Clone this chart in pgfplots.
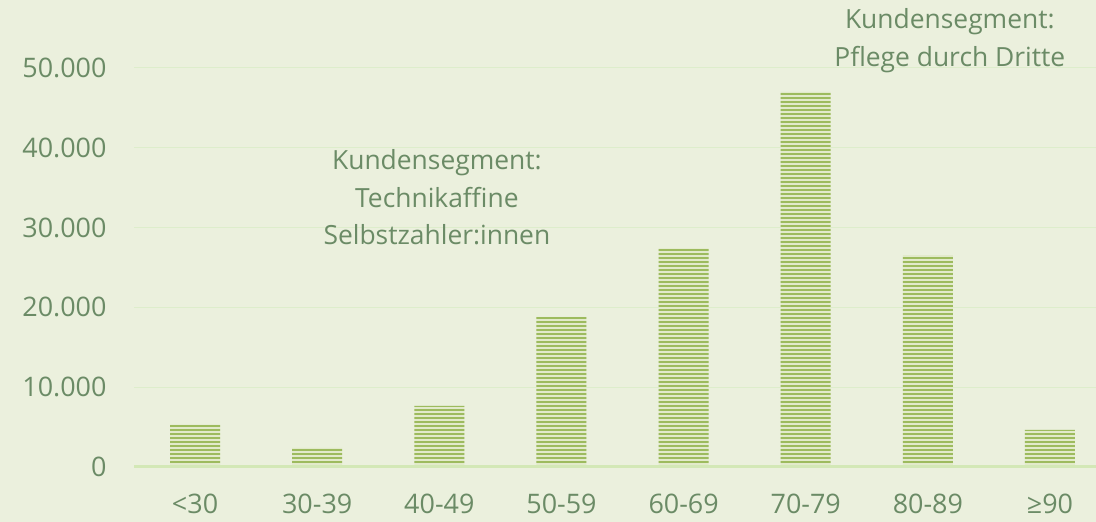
\documentclass[border=0pt]{standalone}
\usepackage{fontspec}
\setmainfont{Open Sans}
\usepackage{pgfplots}
\pgfplotsset{compat=1.18}
\usetikzlibrary{patterns.meta}
\definecolor{bg}{HTML}{EBF0DD}
\definecolor{txt}{HTML}{6B8B66}
\definecolor{grid}{HTML}{DDEDCB}
\definecolor{base}{HTML}{D3E8B6}
\definecolor{stripe}{HTML}{9DBB5E}
\definecolor{gap}{HTML}{E2EACB}
\begin{document}
\begin{tikzpicture}[x=1bp,y=1bp]
\path[use as bounding box, fill=bg] (0,0) rectangle (1096,522);
\begin{axis}[
  at={(134bp,55bp)}, anchor=south west,
  scale only axis, width=962bp, height=438.9bp,
  xmin=-0.5, xmax=7.377, ymin=0, ymax=55000,
  axis line style={draw=none},
  tick style={draw=none},
  xtick={0,...,7},
  xticklabels={{<30},{30-39},{40-49},{50-59},{60-69},{70-79},{80-89},{≥90}},
  ytick={0,10000,20000,30000,40000,50000},
  scaled y ticks=false,
  /pgf/number format/.cd, 1000 sep={.}, assume math mode=true,
  /pgfplots/.cd,
  ymajorgrids, grid style={draw=grid, line width=1bp},
  ticklabel style={font=\fontsize{27}{30}\selectfont, text=txt},
  yticklabel style={xshift=-24bp},
  xticklabel style={yshift=-23bp},
  clip=false,
]
\addplot[ybar, bar width=50bp, fill=gap, draw=none,
  postaction={pattern={Lines[distance=4bp, angle=0, line width=2bp]}, pattern color=stripe}]
  coordinates {(0,5300) (1,2400) (2,7650) (3,18800) (4,27400) (5,47000) (6,26550) (7,4650)};
\draw[base, line width=3bp] (axis cs:-0.5,0) -- (axis cs:7.377,0);
\node[align=center, text=txt, font=\fontsize{26.5}{38}\selectfont] at (axis cs:1.98,33800)
  {Kundensegment:\\Technikaffine\\Selbstzahler:innen};
\node[align=center, text=txt, font=\fontsize{26.5}{38}\selectfont] at (axis cs:6.18,53400)
  {Kundensegment:\\Pflege durch Dritte};
\end{axis}
\end{tikzpicture}
\end{document}
